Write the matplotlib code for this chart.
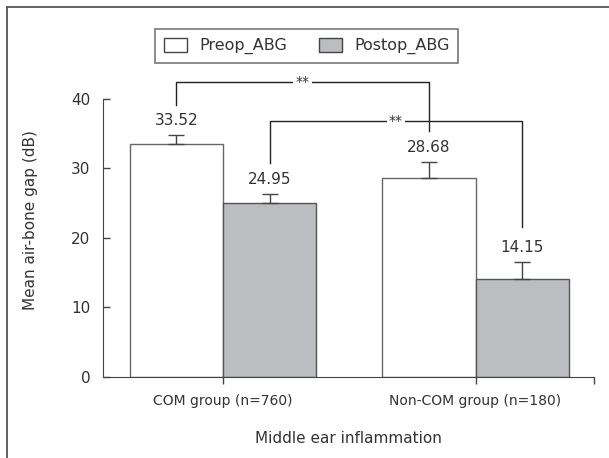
import numpy as np
import matplotlib
matplotlib.use("Agg")
import matplotlib.pyplot as plt
from matplotlib.lines import Line2D
from matplotlib.patches import Patch

groups = ["COM group (n=760)", "Non-COM group (n=180)"]
preop = [33.52, 28.68]
postop = [24.95, 14.15]
preop_err = [1.3, 2.2]
postop_err = [1.35, 2.35]

text_color = "#333333"
line_color = "#444444"
gray = "#bcbdc1"

plt.rcParams["font.family"] = "DejaVu Sans"
plt.rcParams["text.color"] = text_color

fig = plt.figure(figsize=(6.09, 4.58), dpi=100)
ax = fig.add_axes([103 / 609, 81 / 458, 491 / 609, 313 / 458])

x = np.arange(len(groups))
w = 0.37
pre_x = x - w / 2
post_x = x + w / 2

ax.bar(pre_x, preop, w, color="white", edgecolor="#666666", linewidth=1.0, zorder=2)
ax.bar(post_x, postop, w, color=gray, edgecolor="#555555", linewidth=1.0, zorder=2)

ax.errorbar(pre_x, preop, yerr=[[0] * len(preop), preop_err], fmt="none",
            ecolor=line_color, elinewidth=1.0, capsize=6, capthick=1.0, zorder=3)
ax.errorbar(post_x, postop, yerr=[[0] * len(postop), postop_err], fmt="none",
            ecolor=line_color, elinewidth=1.0, capsize=6, capthick=1.0, zorder=3)

# value labels above the caps
for xs, vals, errs in [(pre_x, preop, preop_err), (post_x, postop, postop_err)]:
    for xi, v, e in zip(xs, vals, errs):
        ax.annotate(f"{v:.2f}", (xi, v + e), xytext=(0, 5), textcoords="offset points",
                    ha="center", va="bottom", fontsize=11, color=text_color)


def bracket(x1, x2, y_top, y1, y2):
    ax.plot([x1, x1, x2, x2], [y1, y_top, y_top, y2], color="#222222", lw=1.0,
            zorder=4, clip_on=False)
    ax.text((x1 + x2) / 2, y_top, "**", ha="center", va="center", fontsize=10,
            color=text_color, zorder=5,
            bbox=dict(facecolor="white", edgecolor="none", pad=1.5))


bracket(pre_x[0], pre_x[1], 42.4, 39.1, 35.3)
bracket(post_x[0], post_x[1], 36.85, 30.7, 21.5)

ax.set_xlim(-0.475, 1.469)
ax.set_ylim(0, 45)
ax.spines["top"].set_visible(False)
ax.spines["right"].set_visible(False)
ax.spines["left"].set_bounds(0, 40)
ax.spines["left"].set_color(line_color)
ax.spines["bottom"].set_color(line_color)

ax.set_yticks([0, 10, 20, 30, 40])
ax.tick_params(axis="y", direction="in", length=5, width=1.0, color=line_color,
               labelsize=11, labelcolor=text_color, pad=9)
ax.set_xticks([0, 1, 1.469])
ax.set_xticklabels([groups[0], groups[1], ""])
ax.tick_params(axis="x", direction="out", length=5, width=1.0, color=line_color,
               labelsize=10, labelcolor=text_color, pad=7)

ax.set_ylabel("Mean air-bone gap (dB)", fontsize=11, color=text_color, labelpad=24)
ax.set_xlabel("Middle ear inflammation", fontsize=11, color=text_color, labelpad=17)

handles = [Patch(facecolor="white", edgecolor="#444444", linewidth=1.0),
           Patch(facecolor=gray, edgecolor="#444444", linewidth=1.0)]
leg = fig.legend(handles, ["Preop_ABG", "Postop_ABG"], ncol=2,
                 loc="upper left", bbox_to_anchor=(155 / 609, 1 - 29 / 458),
                 borderaxespad=0, fontsize=11.5, fancybox=False, frameon=True,
                 handlelength=1.45, handleheight=0.95, handletextpad=0.75,
                 columnspacing=2.0, borderpad=0.55)
leg.get_frame().set_edgecolor("#555555")
leg.get_frame().set_linewidth(1.2)

# outer frame edges
fig.add_artist(Line2D([7 / 609, 1], [1 - 7 / 458, 1 - 7 / 458], color="#555555", lw=1.3))
fig.add_artist(Line2D([7 / 609, 7 / 609], [0, 1 - 7 / 458], color="#555555", lw=1.3))

fig.savefig("out.png", dpi=100)
